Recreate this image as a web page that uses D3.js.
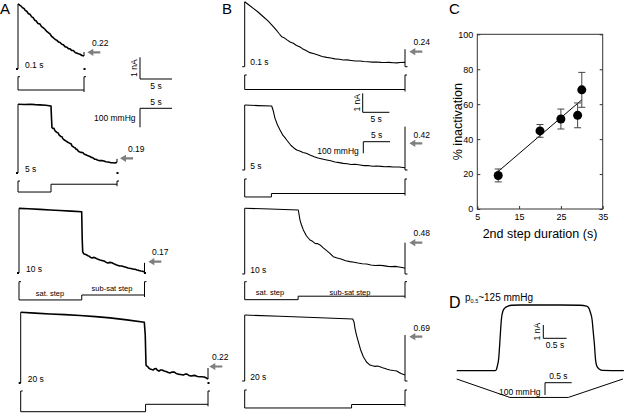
<!DOCTYPE html>
<meta charset="utf-8">
<style>
body { margin: 0; background: #fff; }
svg { font-family: "Liberation Sans", Arial, sans-serif; }
.trace { fill: none; stroke: #000; stroke-linejoin: round; }
.thin { fill: none; stroke: #000; stroke-width: 1; }
.arrow { fill: #7f7f7f; }
.lbl { font-size: 8.5px; }
.small { font-size: 7.5px; }
.panel { font-size: 15px; }
</style>
<body>
<div id="chart"></div>
<script src="https://d3js.org/d3.v7.min.js"></script>
<script>

// ---- data: current traces [time (s), current (nA)] ----
var traceA1 = [[0,3.0],[0.3,2.93],[0.46,2.9],[0.7,2.82],[0.92,2.79],[1.1,2.7],[1.33,2.66],[1.6,2.55],[1.84,2.52],[2.1,2.4],[2.34,2.36],[2.55,2.25],[2.76,2.22],[3.05,2.1],[3.37,2.07],[3.6,1.95],[3.87,1.9],[4.15,1.82],[4.44,1.72],[4.7,1.66],[4.9,1.62],[5.15,1.5],[5.41,1.44],[5.7,1.36],[5.97,1.32],[6.2,1.24],[6.43,1.22],[6.7,1.14],[6.94,1.12],[7.2,1.03],[7.5,1.0],[7.7,0.94],[7.96,0.93],[8.2,0.86],[8.47,0.85],[8.75,0.76],[9.04,0.73],[9.25,0.7],[9.49,0.68],[9.8,0.62],[10.1,0.6]];
var traceA2 = [[0,3.17],[1.0,3.16],[1.82,3.17],[2.6,3.15],[3.33,3.14],[4.2,3.12],[5.0,3.09],[5.08,2.5],[5.15,2.09],[5.3,2.05],[5.45,2.06],[5.6,1.95],[5.76,1.9],[5.95,1.86],[6.1,1.84],[6.25,1.74],[6.36,1.72],[6.5,1.68],[6.67,1.67],[6.8,1.58],[6.97,1.53],[7.15,1.5],[7.38,1.45],[7.55,1.42],[7.73,1.39],[7.9,1.36],[8.03,1.35],[8.2,1.24],[8.33,1.22],[8.5,1.18],[8.64,1.16],[8.8,1.1],[8.94,1.09],[9.15,1.0],[9.39,0.96],[9.6,0.95],[9.85,0.93],[10.05,0.86],[10.3,0.84],[10.6,0.79],[10.9,0.76],[11.1,0.72],[11.36,0.7],[11.6,0.64],[11.82,0.63],[12.1,0.59],[12.42,0.57],[12.7,0.57],[13.03,0.55],[13.3,0.52],[13.64,0.51],[14.0,0.48],[14.39,0.47],[14.7,0.46],[15,0.5]];
var traceA3 = [[0,2.98],[1.5,2.96],[3.35,2.93],[5,2.9],[6.53,2.88],[8.3,2.85],[9.99,2.82],[10.07,1.6],[10.15,0.98],[10.25,0.92],[10.36,0.88],[10.55,0.86],[10.79,0.83],[10.95,0.8],[11.16,0.78],[11.4,0.72],[11.63,0.69],[11.85,0.72],[12.11,0.7],[12.5,0.64],[12.91,0.6],[13.2,0.58],[13.55,0.55],[13.85,0.5],[14.18,0.46],[14.5,0.49],[14.82,0.47],[15.2,0.41],[15.57,0.37],[15.8,0.35],[16.1,0.32],[16.4,0.32],[16.73,0.29],[17.05,0.26],[17.37,0.23],[17.8,0.21],[18.22,0.18],[18.5,0.17],[18.8,0.14],[19.1,0.12],[19.44,0.09],[19.7,0.08],[20,0.05]];
var traceA4 = [[0,3.26],[2.3,3.22],[4.69,3.18],[7.1,3.15],[9.5,3.11],[12,3.06],[14.3,3.0],[17,2.91],[19.8,2.8],[19.95,2.2],[20.07,0.83],[20.2,0.78],[20.39,0.74],[20.55,0.68],[20.71,0.65],[21.0,0.62],[21.24,0.6],[21.45,0.66],[21.67,0.67],[21.9,0.59],[22.15,0.55],[22.4,0.6],[22.63,0.6],[23.0,0.55],[23.39,0.52],[23.65,0.48],[23.92,0.46],[24.2,0.5],[24.55,0.51],[24.9,0.44],[25.2,0.41],[25.6,0.39],[26.05,0.37],[26.35,0.41],[26.64,0.41],[26.95,0.35],[27.28,0.32],[27.6,0.34],[27.92,0.35],[28.3,0.3],[28.72,0.29],[29.0,0.29],[29.36,0.28],[29.7,0.24],[30,0.18]];

var traceB1 = [[0,3.42],[0.8,3.25],[1.61,3.07],[2.49,2.88],[3.48,2.63],[4.36,2.41],[5.35,2.11],[6.05,1.88],[6.5,1.72],[6.92,1.58],[7.4,1.52],[7.92,1.41],[8.5,1.3],[9.1,1.23],[9.7,1.12],[10.35,1.04],[10.8,0.95],[11.29,0.88],[11.8,0.8],[12.22,0.74],[13.0,0.68],[13.72,0.62],[14.5,0.54],[15.35,0.49],[16.1,0.46],[16.9,0.41],[17.7,0.39],[18.45,0.35],[19.2,0.36],[19.9,0.33],[20.7,0.3],[21.58,0.3],[22.3,0.27],[23.08,0.26],[23.9,0.24],[24.7,0.25],[25.5,0.23],[26.26,0.22],[27.0,0.23],[27.81,0.21],[28.5,0.2],[29.06,0.22],[30,0.23]];
var traceB2 = [[0,3.42],[2.49,3.39],[5.05,3.37],[5.3,3.16],[5.67,2.72],[6.14,2.37],[6.61,2.11],[7.17,1.82],[7.5,1.72],[7.86,1.58],[8.3,1.42],[8.67,1.29],[9.2,1.16],[9.73,1.05],[10.3,1.0],[10.91,0.92],[11.5,0.88],[12.22,0.79],[13.0,0.7],[13.72,0.63],[14.5,0.58],[15.35,0.53],[16.1,0.49],[16.9,0.42],[17.7,0.39],[18.45,0.35],[19.2,0.33],[19.9,0.29],[20.7,0.3],[21.58,0.26],[22.3,0.23],[23.08,0.24],[23.9,0.2],[24.7,0.21],[25.5,0.19],[26.26,0.17],[27.0,0.18],[27.81,0.16],[28.9,0.16],[30,0.12]];
var traceB3 = [[0,3.46],[4.74,3.42],[10.03,3.37],[10.35,2.84],[10.63,2.58],[10.97,2.32],[11.57,2.0],[12.22,1.79],[12.7,1.72],[13.16,1.61],[13.6,1.6],[14.1,1.53],[14.6,1.4],[15.22,1.26],[15.9,1.1],[16.58,0.91],[17.3,0.84],[18.02,0.79],[18.9,0.7],[19.71,0.65],[20.5,0.62],[21.2,0.58],[22.0,0.54],[22.83,0.53],[23.6,0.47],[24.39,0.45],[25.2,0.46],[25.94,0.44],[26.8,0.4],[27.57,0.39],[28.2,0.4],[28.88,0.37],[29.5,0.34],[30,0.3]];
var traceB4 = [[0,3.47],[6.61,3.41],[14.1,3.33],[20.21,3.26],[20.46,3.11],[20.64,2.77],[20.92,2.42],[21.26,2.07],[21.67,1.66],[22.2,1.28],[22.8,1.0],[23.45,0.84],[23.9,0.8],[24.39,0.77],[24.85,0.79],[25.32,0.75],[25.8,0.7],[26.26,0.66],[26.7,0.62],[27.19,0.58],[27.85,0.55],[28.45,0.53],[28.9,0.45],[29.25,0.39],[30,0.32]];

// end-of-protocol transient (nA)
var aTail = [0.78, 0.65, 0.47, 0.69];
var bTail = [0.92, 2.28, 1.65, 2.42];

// protocols: first (saturating) step duration, total duration (s), pressures (mmHg)
var rowLabels = ["0.1 s", "5 s", "10 s", "20 s"];
var firstStep = [0.1, 5, 10, 20];
var aTotal = [10.1, 15, 20, 30];
var bTotal = [30, 30, 30, 30];
var aSat = [-100, -58, -96, -109];
var aSub = [-70, -17, -70, -70];
var bSat = [-155, -155, -155, -155];
var bSub = [-125, -125, -125, -125];

// residual current ratios
var aRatios = ["0.22", "0.19", "0.17", "0.22"];
var bRatios = ["0.24", "0.42", "0.48", "0.69"];

// panel C
var cDur = [10, 20, 25, 29, 30];
var cInact = [19.2, 44.7, 51.5, 53.6, 68.2];
var cErr = [3.7, 3.65, 5.7, 7.1, 10];
var cFit = [[10, 21.5], [30, 62.5]];
var cXTicks = [5, 15, 25, 35];
var cYTicks = [0, 20, 40, 60, 80, 100];

// panel D: current [s, nA] and pressure ramp [s, mmHg]
var traceD = [[0,0],[0.82,0],[0.85,0.09],[0.87,0.35],[0.9,0.95],[0.92,1.93],[0.94,3.06],[0.96,3.96],[0.99,4.49],[1.03,4.71],[1.1,4.86],[1.18,4.92],[1.36,4.94],[2.21,4.94],[2.64,4.92],[2.78,4.86],[2.83,4.71],[2.86,4.41],[2.9,3.81],[2.92,3.06],[2.95,1.93],[2.97,0.95],[3.0,0.35],[3.05,0.13],[3.13,0.02],[3.58,0]];
var pressD = [[0,0],[1.14,-150],[2.39,-150],[3.56,0]];

// ---- layout ----
var svg = d3.select("#chart").append("svg").attr("width", 624).attr("height", 414);

var aRows = [
  {x0: 18, x1: 84, base: 69, tick: 76.7},
  {x0: 18, x1: 117, base: 173, tick: 181},
  {x0: 19, x1: 144.5, base: 273, tick: 281.7},
  {x0: 20.7, x1: 208, base: 383, tick: 391}
];
var bRows = [
  {x0: 244.7, x1: 405, base: 66.7, tick: 75},
  {x0: 244.7, x1: 405, base: 170, tick: 179},
  {x0: 244.7, x1: 405, base: 274, tick: 281.7},
  {x0: 244.7, x1: 405, base: 381, tick: 390}
];
var aArrows = [[87.3, 52.3, 92, 46], [120, 158.3, 128, 152], [148.3, 261.7, 152, 255], [209.3, 366.5, 212, 359.5]];
var bArrows = [[409.3, 51.7, 413.5, 44.5], [409.3, 143.3, 413.5, 138], [409.3, 242.7, 413.5, 235.5], [409.3, 336.7, 413.5, 330.5]];

function arrow(x, y) {
  svg.append("path").attr("class", "arrow")
    .attr("d", "M" + x + "," + y + "L" + (x + 6) + "," + (y - 3.6) + "L" + (x + 6) + "," + (y - 1.1) +
      "L" + (x + 13) + "," + (y - 1.1) + "L" + (x + 13) + "," + (y + 1.1) + "L" + (x + 6) + "," + (y + 1.1) +
      "L" + (x + 6) + "," + (y + 3.6) + "Z");
}

function drawRow(trace, total, step, sat, sub, tail, L, P, i) {
  var x = d3.scaleLinear().domain([0, total]).range([L.x0, L.x1]);
  var y = d3.scaleLinear().domain([0, 1]).range([L.base, L.base - P.pxNA]);
  var line = d3.line().x(function(d) { return x(d[0]); }).y(function(d) { return y(d[1]); });
  var last = trace[trace.length - 1];

  // onset jump and trace
  svg.append("path").attr("class", "thin").attr("d", line([[0, 0], trace[0]]));
  svg.append("path").attr("class", "trace").attr("stroke-width", P.lw).attr("d", line(trace));

  if (P.dots) {
    svg.append("rect").attr("x", L.x0 - 2).attr("y", y(0) - 1).attr("width", 2).attr("height", 2);
    svg.append("rect").attr("x", L.x1 - 0.5).attr("y", y(0) - 1).attr("width", 2).attr("height", 2);
    svg.append("path").attr("class", "thin").attr("d", line([[total, last[1]], [total, tail]]));
  } else {
    svg.append("path").attr("class", "thin")
      .attr("d", "M" + (L.x0 - 2.5) + "," + y(0) + "H" + L.x0);
    svg.append("path").attr("class", "thin").attr("stroke-width", 1.3)
      .attr("d", line([[total, tail], [total, 0]]) + "h2.5");
  }

  // pressure protocol
  var p = d3.scaleLinear().domain([0, -100]).range([L.tick, L.tick + P.pxHg]);
  var prot = step < 0.5 ? [[0, sub], [total, sub]] : [[0, sat], [step, sat], [step, sub], [total, sub]];
  var pline = d3.line().x(function(d) { return x(d[0]); }).y(function(d) { return p(d[1]); });
  svg.append("path").attr("class", "thin")
    .attr("d", "M" + (x(0) + 2) + "," + p(0) + "H" + x(0) + "V" + p(prot[0][1]) + pline(prot).replace("M", "L"));
  svg.append("path").attr("class", "thin")
    .attr("d", "M" + (x(total) + 2) + "," + p(0) + "H" + x(total) + "V" + (p(sub) + 2));

  // row label
  svg.append("text").attr("class", "lbl").attr("x", L.x0 + P.labDx).attr("y", L.base - 1.5).text(rowLabels[i]);
}

var aP = {pxNA: 21.7, pxHg: 19, lw: 1.6, dots: true, labDx: 7};
var bP = {pxNA: 19, pxHg: 11.6, lw: 1.1, dots: false, labDx: 5.5};
var aTraces = [traceA1, traceA2, traceA3, traceA4];
var bTraces = [traceB1, traceB2, traceB3, traceB4];

for (var i = 0; i < 4; i++) {
  drawRow(aTraces[i], aTotal[i], firstStep[i], aSat[i], aSub[i], aTail[i], aRows[i], aP, i);
  drawRow(bTraces[i], bTotal[i], firstStep[i], bSat[i], bSub[i], bTail[i], bRows[i], bP, i);
  arrow(aArrows[i][0], aArrows[i][1]);
  svg.append("text").attr("class", "lbl").attr("x", aArrows[i][2]).attr("y", aArrows[i][3]).text(aRatios[i]);
  arrow(bArrows[i][0], bArrows[i][1]);
  svg.append("text").attr("class", "lbl").attr("x", bArrows[i][2]).attr("y", bArrows[i][3]).text(bRatios[i]);
}

// step labels (row 3)
svg.append("text").attr("class", "small").attr("x", 50).attr("y", 296).attr("text-anchor", "middle").text("sat. step");
svg.append("text").attr("class", "small").attr("x", 112).attr("y", 290.5).attr("text-anchor", "middle").text("sub-sat step");
svg.append("text").attr("class", "small").attr("x", 270).attr("y", 294.5).attr("text-anchor", "middle").text("sat. step");
svg.append("text").attr("class", "small").attr("x", 350).attr("y", 294.5).attr("text-anchor", "middle").text("sub-sat step");

// scale bars
function scaleBar(x, y, w, h, vLabel, hLabel, opts) {
  svg.append("path").attr("class", "thin").attr("d", "M" + x + "," + (y - h) + "V" + y + "H" + (x + w));
  svg.append("text").attr("class", "lbl").attr("text-anchor", "middle")
    .attr("transform", "translate(" + (x - 3) + "," + (y - h / 2) + ") rotate(-90)").text(vLabel);
  svg.append("text").attr("class", "lbl").attr("text-anchor", "middle").attr("x", x + w / 2).attr("y", y + 9.5).text(hLabel);
}
function pressBar(x, y, w, h, vLabel, hLabel) {
  svg.append("path").attr("class", "thin").attr("d", "M" + (x + w) + "," + y + "H" + x + "V" + (y + h));
  svg.append("text").attr("class", "lbl").attr("text-anchor", "middle").attr("x", x + w / 2).attr("y", y - 3.5).text(hLabel);
  svg.append("text").attr("class", "lbl").attr("text-anchor", "end").attr("x", x - 4.5).attr("y", y + 12.5).text(vLabel);
}
scaleBar(140, 79, 5 * 6.4, aP.pxNA, "1 nA", "5 s");
pressBar(140, 108.3, 5 * 6.4, aP.pxHg, "100 mmHg", "5 s");
scaleBar(362.7, 112.3, 5 * 5.34, bP.pxNA, "1 nA", "5 s");
pressBar(363.3, 141.7, 5 * 5.34, bP.pxHg, "100 mmHg", "5 s");

// panel letters
svg.append("text").attr("class", "panel").attr("x", 0).attr("y", 14).text("A");
svg.append("text").attr("class", "panel").attr("x", 222).attr("y", 14).text("B");
svg.append("text").attr("class", "panel").attr("x", 449).attr("y", 14).text("C");
svg.append("text").attr("class", "panel").attr("x", 449).attr("y", 307.5).style("font-size", "16px").text("D");

// ---- panel C ----
var cx = d3.scaleLinear().domain([5, 35]).range([477.3, 602.7]);
var cy = d3.scaleLinear().domain([0, 100]).range([209, 34.3]);
var gC = svg.append("g");
gC.append("rect").attr("x", cx(5)).attr("y", cy(100)).attr("width", cx(35) - cx(5)).attr("height", cy(0) - cy(100))
  .attr("fill", "none").attr("stroke", "#333").attr("stroke-width", 1);
var xAx = gC.append("g").attr("transform", "translate(0," + cy(0) + ")")
  .call(d3.axisBottom(cx).tickValues(cXTicks).tickSize(-3).tickPadding(5));
var yAx = gC.append("g").attr("transform", "translate(" + cx(5) + ",0)")
  .call(d3.axisLeft(cy).tickValues(cYTicks).tickSize(-3).tickPadding(4));
var rAx = gC.append("g").attr("transform", "translate(" + cx(35) + ",0)")
  .call(d3.axisRight(cy).tickValues(cYTicks).tickSize(-3).tickFormat(""));
[xAx, yAx, rAx].forEach(function(a) {
  a.select(".domain").remove();
  a.selectAll("text").style("font-size", "9px").style("font-family", "Liberation Sans, Arial, sans-serif");
  a.selectAll("line").attr("stroke", "#333");
});
gC.append("path").attr("class", "thin")
  .attr("d", d3.line().x(function(d) { return cx(d[0]); }).y(function(d) { return cy(d[1]); })(cFit));
cDur.forEach(function(d, k) {
  var xx = cx(d), y1 = cy(cInact[k] + cErr[k]), y2 = cy(cInact[k] - cErr[k]);
  gC.append("path").attr("fill", "none").attr("stroke", "#444").attr("stroke-width", 1)
    .attr("d", "M" + (xx - 3.5) + "," + y1 + "H" + (xx + 3.5) + "M" + xx + "," + y1 + "V" + y2 + "M" + (xx - 3.5) + "," + y2 + "H" + (xx + 3.5));
  gC.append("circle").attr("cx", xx).attr("cy", cy(cInact[k])).attr("r", 4.5).attr("fill", "#000");
});
gC.append("text").attr("text-anchor", "middle").style("font-size", "12.5px")
  .attr("x", (cx(5) + cx(35)) / 2).attr("y", 237.5).text("2nd step duration (s)");
gC.append("text").attr("text-anchor", "middle").style("font-size", "12.5px")
  .attr("transform", "translate(462," + ((cy(0) + cy(100)) / 2) + ") rotate(-90)").text("% inactivation");

// ---- panel D ----
var dx = d3.scaleLinear().domain([0, 1]).range([456.7, 456.7 + 46.7]);
var dyI = d3.scaleLinear().domain([0, 1]).range([370.7, 370.7 - 13.3]);
var dyP = d3.scaleLinear().domain([0, -100]).range([379, 379 + 12.3]);
svg.append("path").attr("class", "trace").attr("stroke-width", 1.3)
  .attr("d", d3.line().x(function(d) { return dx(d[0]); }).y(function(d) { return dyI(d[1]); }).curve(d3.curveMonotoneX)(traceD));
svg.append("path").attr("class", "thin")
  .attr("d", d3.line().x(function(d) { return dx(d[0]); }).y(function(d) { return dyP(d[1]); })(pressD));
var pt = svg.append("text").attr("x", 465).attr("y", 301).style("font-size", "10px");
pt.append("tspan").text("p");
pt.append("tspan").attr("dy", 2).style("font-size", "5.5px").text("0.5");
pt.append("tspan").attr("dy", -2).text("~125 mmHg");
scaleBar(543.3, 338.3, 0.5 * 46.7, 13.3, "1 nA", "0.5 s");
pressBar(545, 382.7, 0.5 * 53.4, 12.3, "100 mmHg", "0.5 s");

</script>
</body>
